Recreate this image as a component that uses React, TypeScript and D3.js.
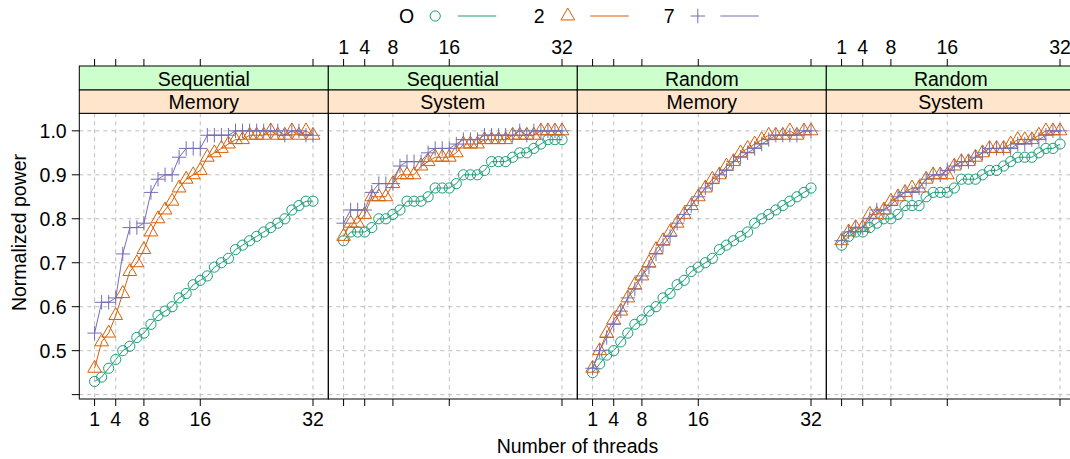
import React from "react";
import * as d3 from "d3";

const threads = [1,2,3,4,5,6,7,8,9,10,11,12,13,14,15,16,17,18,19,20,21,22,23,24,25,26,27,28,29,30,31,32];
const xTicks = [1, 4, 8, 16, 32];
const yTicks = [0.4, 0.5, 0.6, 0.7, 0.8, 0.9, 1.0];
const yTickLabels = ["", "0.5", "0.6", "0.7", "0.8", "0.9", "1.0"];
const seriesNames = ["O", "2", "7"];
const seriesColors = ["#1B9E77", "#D95F02", "#7570B3"];
const outerStrips = ["Sequential", "Sequential", "Random", "Random"];
const innerStrips = ["Memory", "System", "Memory", "System"];

const seqMemO = [0.43,0.44,0.46,0.48,0.50,0.51,0.53,0.54,0.56,0.58,0.59,0.60,0.62,0.63,0.65,0.66,0.67,0.69,0.70,0.71,0.73,0.74,0.75,0.76,0.77,0.78,0.79,0.80,0.82,0.83,0.84,0.84];
const seqMem2 = [0.46,0.52,0.54,0.58,0.63,0.68,0.70,0.73,0.77,0.80,0.82,0.84,0.87,0.89,0.90,0.91,0.94,0.95,0.96,0.97,0.98,0.98,0.99,0.99,0.99,1.00,0.99,0.99,1.00,0.99,1.00,0.99];
const seqMem7 = [0.54,0.61,0.61,0.62,0.72,0.78,0.78,0.79,0.86,0.89,0.90,0.90,0.94,0.96,0.96,0.96,0.99,0.99,0.99,0.99,1.00,1.00,1.00,1.00,1.00,1.00,1.00,0.99,1.00,1.00,0.99,0.99];

const seqSysO = [0.75,0.77,0.77,0.77,0.78,0.80,0.80,0.81,0.82,0.84,0.84,0.84,0.85,0.87,0.87,0.87,0.88,0.90,0.90,0.90,0.91,0.93,0.93,0.93,0.94,0.95,0.95,0.96,0.97,0.98,0.98,0.98];
const seqSys2 = [0.76,0.79,0.79,0.81,0.85,0.85,0.85,0.88,0.90,0.90,0.90,0.92,0.93,0.94,0.94,0.94,0.95,0.97,0.97,0.97,0.98,0.98,0.98,0.98,0.99,0.99,0.99,0.99,1.00,1.00,1.00,1.00];
const seqSys7 = [0.79,0.82,0.82,0.82,0.86,0.88,0.88,0.88,0.92,0.93,0.93,0.93,0.95,0.96,0.96,0.96,0.97,0.98,0.98,0.98,0.99,0.99,0.99,0.99,0.99,1.00,0.99,1.00,1.00,1.00,1.00,1.00];

const randMemO = [0.45,0.47,0.49,0.50,0.52,0.54,0.56,0.57,0.59,0.60,0.62,0.63,0.65,0.66,0.68,0.69,0.70,0.71,0.73,0.74,0.75,0.76,0.77,0.79,0.80,0.81,0.82,0.83,0.84,0.85,0.86,0.87];
const randMem2 = [0.46,0.50,0.54,0.57,0.59,0.62,0.65,0.67,0.70,0.73,0.75,0.77,0.79,0.81,0.83,0.85,0.87,0.89,0.90,0.92,0.93,0.95,0.96,0.97,0.98,0.99,0.99,0.99,1.00,0.99,1.00,1.00];
const randMem7 = [0.46,0.50,0.53,0.56,0.59,0.62,0.64,0.67,0.69,0.72,0.74,0.76,0.79,0.81,0.83,0.85,0.87,0.88,0.90,0.91,0.93,0.94,0.95,0.96,0.97,0.98,0.99,0.99,0.99,0.99,1.00,1.00];

const randSysO = [0.74,0.76,0.77,0.77,0.78,0.79,0.80,0.80,0.81,0.83,0.83,0.83,0.85,0.86,0.86,0.86,0.87,0.89,0.89,0.89,0.90,0.91,0.91,0.92,0.93,0.94,0.94,0.94,0.95,0.96,0.96,0.97];
const randSys2 = [0.75,0.77,0.78,0.78,0.81,0.81,0.82,0.84,0.85,0.86,0.87,0.87,0.89,0.90,0.90,0.90,0.92,0.93,0.93,0.94,0.95,0.96,0.96,0.96,0.97,0.98,0.98,0.98,0.99,1.00,1.00,1.00];
const randSys7 = [0.75,0.77,0.78,0.78,0.80,0.82,0.82,0.83,0.85,0.86,0.86,0.87,0.89,0.90,0.90,0.91,0.92,0.93,0.93,0.94,0.95,0.96,0.96,0.96,0.96,0.97,0.97,0.98,0.98,0.99,1.00,1.00];

const panelSeries = [
  [seqMemO, seqMem2, seqMem7],
  [seqSysO, seqSys2, seqSys7],
  [randMemO, randMem2, randMem7],
  [randSysO, randSys2, randSys7],
];

const FONT = "'Liberation Sans', Arial, Helvetica, sans-serif";
const FS = 19.5;
const W = 1070, H = 459;
const panelLeft0 = 79.3;
const panelW = 249;
const stripTop = 66;
const stripMid = 90;
const panelTop = 113.3;
const panelBottom = 399;
const XC = 5.1;

const xPad = (32 - 1) * 0.07;
const yPad = (1.0 - 0.43) * 0.07;
const yScale = d3.scaleLinear().domain([0.43 - yPad, 1.0 + yPad]).range([panelBottom, panelTop]);

function symbolPath(kind: number, x: number, y: number): string {
  if (kind === 0) {
    const p = d3.path();
    p.moveTo(x + XC, y);
    p.arc(x, y, XC, 0, Math.PI * 2);
    return p.toString();
  }
  if (kind === 1) {
    const r = 1.555 * XC, hx = 1.347 * XC, yc = 0.7776 * XC;
    return `M${x},${y - r}L${x + hx},${y + yc}L${x - hx},${y + yc}Z`;
  }
  const a = Math.SQRT2 * XC;
  return `M${x - a},${y}L${x + a},${y}M${x},${y - a}L${x},${y + a}`;
}

export default function App() {
  const grid = "#BDBDBD";
  return (
    <svg width={W} height={H} style={{ position: "absolute", left: 0, top: 0, background: "#fff" }} fontFamily={FONT}>
      {seriesNames.map((n, i) => {
        const cx = [406.7, 539.3, 669.3][i];
        const col = seriesColors[i];
        const ly = 16;
        return (
          <g key={n}>
            <text x={cx} y={ly} fontSize={FS} textAnchor="middle" dominantBaseline="central" fill="#000">{n}</text>
            <path d={symbolPath(i, cx + 28.5, ly)} fill="none" stroke={col} strokeWidth={1} />
            <line x1={cx + 51} x2={cx + 89.5} y1={ly} y2={ly} stroke={col} strokeWidth={1} />
          </g>
        );
      })}

      {panelSeries.map((series, pi) => {
        const left = panelLeft0 + pi * panelW;
        const x = d3.scaleLinear().domain([1 - xPad, 32 + xPad]).range([left, left + panelW]);
        const line = d3.line<number>().x((_, k) => x(threads[k])).y((v) => yScale(v));
        const topLabels = pi % 2 === 1;
        const bottomLabels = pi % 2 === 0;
        return (
          <g key={pi}>
            {xTicks.map((t) => (
              <line key={"gx" + t} x1={x(t)} x2={x(t)} y1={panelTop} y2={panelBottom} stroke={grid} strokeDasharray="4 4" strokeWidth={1} />
            ))}
            {yTicks.map((t) => (
              <line key={"gy" + t} x1={left} x2={left + panelW} y1={yScale(t)} y2={yScale(t)} stroke={grid} strokeDasharray="4 4" strokeWidth={1} />
            ))}
            {series.map((vals, si) => (
              <g key={si}>
                <path d={line(vals) || ""} fill="none" stroke={seriesColors[si]} strokeWidth={1} />
                {vals.map((v, k) => (
                  <path key={k} d={symbolPath(si, x(threads[k]), yScale(v))} fill="none" stroke={seriesColors[si]} strokeWidth={1} />
                ))}
              </g>
            ))}
            <rect x={left} y={panelTop} width={panelW} height={panelBottom - panelTop} fill="none" stroke="#000" strokeWidth={1} />
            <rect x={left} y={stripTop} width={panelW} height={stripMid - stripTop} fill="#CCFFCC" stroke="#000" strokeWidth={1} />
            <rect x={left} y={stripMid} width={panelW} height={panelTop - stripMid} fill="#FFE5CC" stroke="#000" strokeWidth={1} />
            <text x={left + panelW / 2} y={(stripTop + stripMid) / 2 + 0.5} fontSize={FS} textAnchor="middle" dominantBaseline="central">{outerStrips[pi]}</text>
            <text x={left + panelW / 2} y={(stripMid + panelTop) / 2 + 0.5} fontSize={FS} textAnchor="middle" dominantBaseline="central">{innerStrips[pi]}</text>
            {xTicks.map((t) => (
              <g key={"tt" + t}>
                <line x1={x(t)} x2={x(t)} y1={stripTop} y2={stripTop - 7} stroke="#000" strokeWidth={1} />
                {topLabels && (
                  <text x={x(t)} y={46.7} fontSize={FS} textAnchor="middle" dominantBaseline="central">{t}</text>
                )}
              </g>
            ))}
            {xTicks.map((t) => (
              <g key={"bt" + t}>
                <line x1={x(t)} x2={x(t)} y1={panelBottom} y2={panelBottom + 7} stroke="#000" strokeWidth={1} />
                {bottomLabels && (
                  <text x={x(t)} y={418.5} fontSize={FS} textAnchor="middle" dominantBaseline="central">{t}</text>
                )}
              </g>
            ))}
          </g>
        );
      })}

      {yTicks.map((t, i) => (
        <g key={"yt" + t}>
          <line x1={panelLeft0} x2={panelLeft0 - 7.5} y1={yScale(t)} y2={yScale(t)} stroke="#000" strokeWidth={1} />
          <text x={66.7} y={yScale(t)} fontSize={FS} textAnchor="end" dominantBaseline="central">{yTickLabels[i]}</text>
        </g>
      ))}
      <text transform={`translate(19,232.5) rotate(-90)`} fontSize={FS} textAnchor="middle" dominantBaseline="central">Normalized power</text>
      <text x={577.4} y={446} fontSize={FS} textAnchor="middle" dominantBaseline="central">Number of threads</text>
    </svg>
  );
}
